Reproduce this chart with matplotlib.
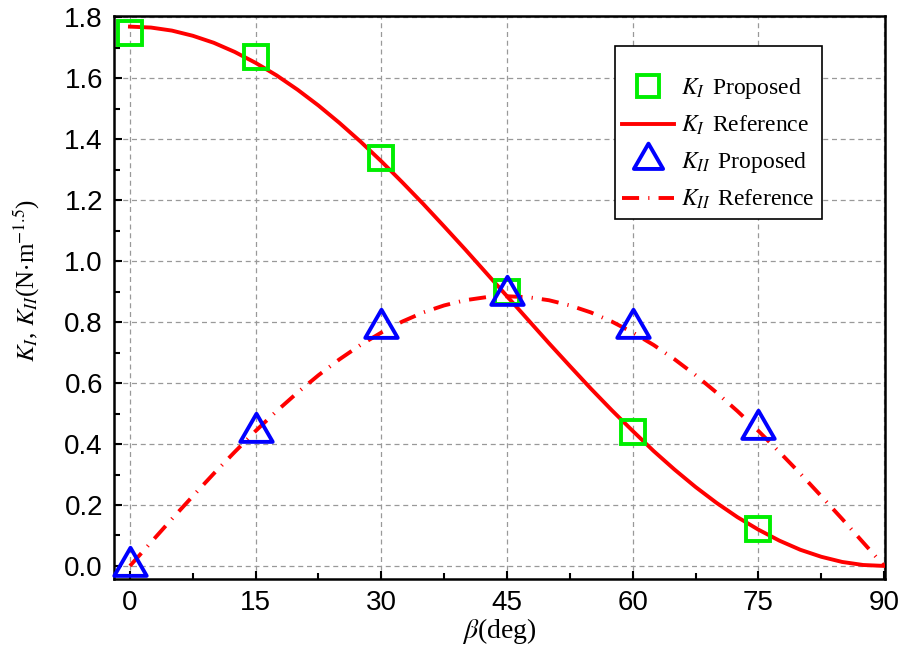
import matplotlib
matplotlib.use('Agg')
import matplotlib.pyplot as plt
from matplotlib.path import Path
import numpy as np

beta_marks = [0, 15, 30, 45, 60, 75]
ki_prop = [1.75, 1.67, 1.34, 0.90, 0.44, 0.12]
kii_prop = [0.0, 0.44, 0.78, 0.89, 0.78, 0.45]

beta_line = [0, 2.5, 5, 7.5, 10, 12.5, 15, 17.5, 20, 22.5, 25, 27.5, 30, 32.5, 35, 37.5,
             40, 42.5, 45, 47.5, 50, 52.5, 55, 57.5, 60, 62.5, 65, 67.5, 70, 72.5, 75,
             77.5, 80, 82.5, 85, 87.5, 90]
ki_ref = [1.770, 1.767, 1.757, 1.740, 1.717, 1.687, 1.651, 1.610, 1.563, 1.511, 1.454,
          1.393, 1.328, 1.259, 1.188, 1.114, 1.039, 0.962, 0.885, 0.808, 0.731, 0.656,
          0.582, 0.511, 0.443, 0.377, 0.316, 0.259, 0.207, 0.160, 0.119, 0.083, 0.053,
          0.030, 0.013, 0.003, 0.0]
kii_ref = [0.0, 0.077, 0.154, 0.229, 0.303, 0.374, 0.443, 0.508, 0.569, 0.626, 0.678,
           0.725, 0.766, 0.802, 0.832, 0.855, 0.872, 0.882, 0.885, 0.882, 0.872, 0.855,
           0.832, 0.802, 0.766, 0.725, 0.678, 0.626, 0.569, 0.508, 0.443, 0.374, 0.303,
           0.229, 0.154, 0.077, 0.0]

plt.rcParams['mathtext.fontset'] = 'stix'
serif = 'Liberation Serif'
sans = ['Liberation Sans Narrow', 'Liberation Sans']

# triangle centred on its centroid (like Origin does)
tri = Path([(0, 1), (-0.866, -0.5), (0.866, -0.5), (0, 1)],
           [Path.MOVETO, Path.LINETO, Path.LINETO, Path.CLOSEPOLY])

fig = plt.figure(figsize=(9.08, 6.57), dpi=100)
ax = fig.add_axes([0.1256, 0.1187, 0.849, 0.857])

ax.plot(beta_marks, ki_prop, 's', ms=17, mfc='none', mec='#00ee00', mew=2.8,
        label=r'$K_{I}\,$ Proposed', zorder=4, clip_on=False)
ax.plot(beta_line, ki_ref, '-', color='red', lw=2.8, label=r'$K_{I}\,$ Reference', zorder=3)
ax.plot(beta_marks, kii_prop, marker=tri, ls='none', ms=27, mfc='none', mec='blue', mew=2.8,
        label=r'$K_{II}\,$ Proposed', zorder=4, clip_on=False)
ax.plot(beta_line, kii_ref, color='red', lw=2.8, dashes=(4.4, 2.35, 0.3, 2.35),
        label=r'$K_{II}\,$ Reference', zorder=3)

ax.set_xlim(-1.9, 90.1)
ax.set_ylim(-0.043, 1.805)
ax.set_xticks([0, 15, 30, 45, 60, 75, 90])
ax.set_xticks(np.arange(7.5, 90, 15), minor=True)
ax.set_yticks(np.arange(0, 1.81, 0.2))
ax.set_yticks(np.arange(0.1, 1.8, 0.2), minor=True)
ax.set_yticklabels(['%.1f' % v for v in np.arange(0, 1.81, 0.2)])

ax.grid(True, which='major', color='#999999', ls=(0, (4, 3)), lw=0.9)
ax.tick_params(which='both', direction='in', width=1.5, top=False, right=False)
ax.tick_params(which='major', length=6, labelsize=20, pad=8)
ax.tick_params(which='minor', length=4)
for lab in ax.get_xticklabels() + ax.get_yticklabels():
    lab.set_family(sans)
for s in ax.spines.values():
    s.set_linewidth(1.8)

ax.set_xlabel(r'$\beta$(deg)', fontsize=20, family=serif, labelpad=0)
ax.set_ylabel(r'$K_I$, $K_{II}$(N$\cdot$m$^{-1.5}$)', fontsize=18, family=serif)
ax.yaxis.set_label_coords(-0.093, 0.53)

# blank title gives the extra room above the first row
leg = ax.legend(loc='upper right', bbox_to_anchor=(0.918, 0.947), fancybox=False,
                edgecolor='black', framealpha=1, prop={'family': serif, 'size': 17},
                handlelength=2.2, borderpad=0.3, labelspacing=0.55, handletextpad=0.3,
                borderaxespad=0, markerscale=0.9, title=' ', title_fontsize=8)
leg.get_frame().set_linewidth(1.2)

fig.savefig('out.png', dpi=100)
